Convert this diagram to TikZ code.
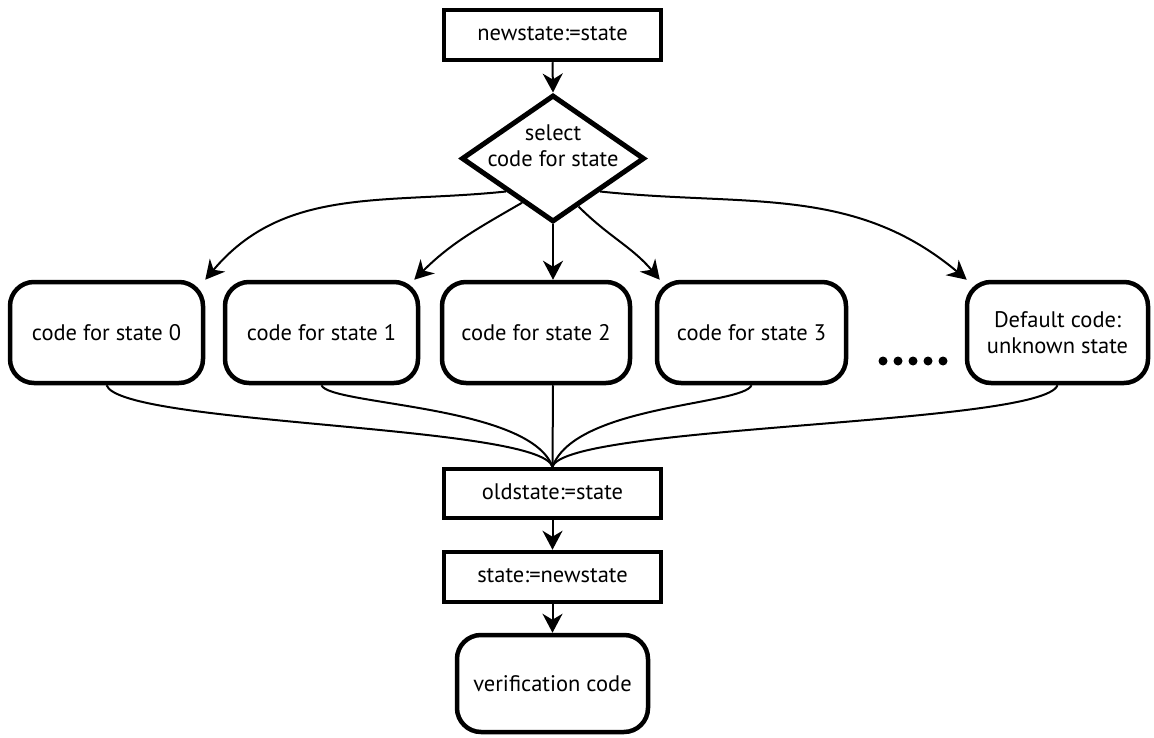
\documentclass[tikz,border=0pt]{standalone}
\usepackage{fontspec}
\setmainfont{PT Sans}
\usetikzlibrary{shapes.geometric,arrows.meta}
\begin{document}
\begin{tikzpicture}[x=1pt,y=1pt,
  every node/.style={font=\fontsize{22.5}{26}\selectfont, text=black},
  sqbox/.style={draw, line width=4.5pt, rectangle, inner sep=0pt, minimum width=217pt, minimum height=50pt},
  rbox/.style={draw, line width=4.5pt, rectangle, rounded corners=24pt, inner sep=0pt, minimum height=101pt, align=center},
  conn/.style={line width=2pt},
  arr/.style={conn, -{Stealth[length=19pt,width=20pt,inset=6pt]}},
  dotmark/.style={circle, fill=black, inner sep=0pt, minimum size=9pt}
]
\useasboundingbox (0,0) rectangle (1154,-738);

\node[sqbox] (ns) at (552.5,-35) {\raisebox{3pt}{newstate:=state}};
\node[diamond, draw, line width=5pt, inner sep=0pt, minimum width=183pt, minimum height=127pt] (sel) at (553,-158.5) {};
\node[align=center] (seltext) at (553,-146) {select\\code for state};

\node[rbox, minimum width=193pt] (b0) at (106.5,-332.5) {code for state 0};
\node[rbox, minimum width=193pt] (b1) at (321.5,-332.5) {code for state 1};
\node[rbox, minimum width=188pt] (b2) at (536,-332.5) {code for state 2};
\node[rbox, minimum width=189pt] (b3) at (751.5,-332.5) {code for state 3};
\node[rbox, minimum width=181pt] (bd) at (1057.5,-332.5) {Default code:\\unknown state};

\foreach \i/\xx in {1/883,2/898,3/913,4/928,5/943}
  \node[dotmark] (dot\i) at (\xx,-361) {};

\node[sqbox, minimum height=49pt] (old) at (552.5,-493.5) {\raisebox{3pt}{oldstate:=state}};
\node[sqbox] (st) at (552.5,-577) {\raisebox{3pt}{state:=newstate}};
\node[rbox, minimum width=191pt, minimum height=97pt] (ver) at (552.5,-683.5) {verification code};

% top arrows
\draw[arr] (ns.south) -- (sel.north);
\draw[arr] (sel.south west) to[out=186,in=50] (b0.north east);
\draw[arr] (sel.235) to[out=210,in=45] ([xshift=-6pt]b1.north east);
\draw[arr] (sel.south) -- (sel.south |- b2.north);
\draw[arr] (sel.298) to[out=-45,in=130] ([xshift=5pt]b3.north west);
\draw[arr] (sel.south east) to[out=-6,in=140] ([xshift=2pt]bd.north west);

% merge lines
\draw[conn] (b0.south) .. controls +(15,-40) and +(-13,42) .. (old.north);
\draw[conn] (b1.south) .. controls +(8,-20) and +(-23,62) .. (old.north);
\draw[conn] (sel.south |- b2.south) -- (old.north);
\draw[conn] (b3.south) .. controls +(-8,-20) and +(23,62) .. (old.north);
\draw[conn] (bd.south) .. controls +(-15,-40) and +(13,42) .. (old.north);

% bottom arrows
\draw[arr] (old.south) -- (st.north);
\draw[arr] (st.south) -- (ver.north);
\end{tikzpicture}
\end{document}
